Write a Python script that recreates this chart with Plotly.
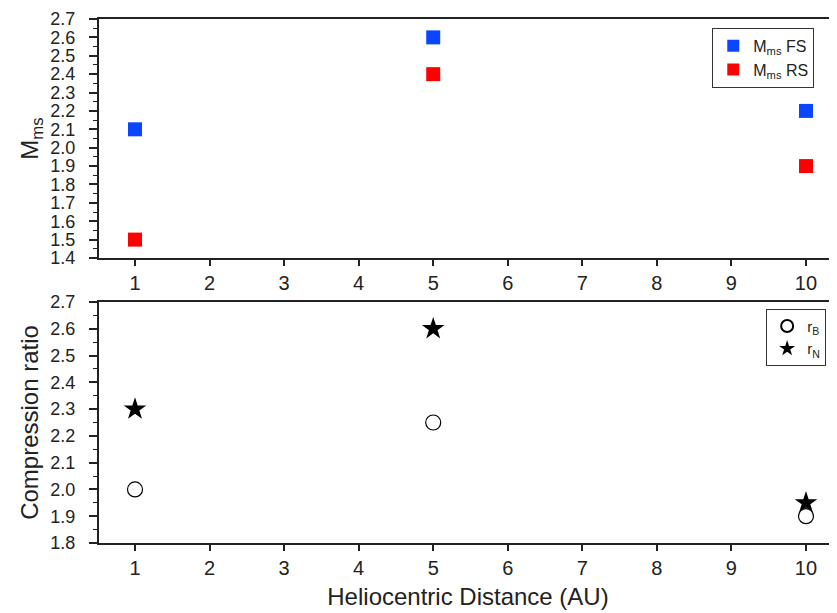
import plotly.graph_objects as go

distance = [1, 5, 10]
mms_fs = [2.1, 2.6, 2.2]
mms_rs = [1.5, 2.4, 1.9]
r_b = [2.0, 2.25, 1.9]
r_n = [2.3, 2.6, 1.95]
x_ticks = list(range(1, 11))

FONT = "Liberation Sans, Arial, sans-serif"
LINE = "#222222"

fig = go.Figure()

fig.add_trace(go.Scatter(x=distance, y=mms_fs, mode="markers", name="M<sub>ms</sub> FS",
                         marker=dict(symbol="square", size=14, color="#0a46ff"),
                         xaxis="x", yaxis="y", legend="legend"))
fig.add_trace(go.Scatter(x=distance, y=mms_rs, mode="markers", name="M<sub>ms</sub> RS",
                         marker=dict(symbol="square", size=14, color="#ff0000"),
                         xaxis="x", yaxis="y", legend="legend"))
fig.add_trace(go.Scatter(x=distance, y=r_b, mode="markers", name="r<sub>B</sub>",
                         marker=dict(symbol="circle-open", size=15, color="black", line=dict(width=1.2)),
                         xaxis="x2", yaxis="y2", legend="legend2"))
fig.add_trace(go.Scatter(x=distance, y=r_n, mode="markers", name="r<sub>N</sub>",
                         marker=dict(symbol="star", size=17, color="black"),
                         xaxis="x2", yaxis="y2", legend="legend2"))

xcommon = dict(range=[0.517, 10.416], tickvals=x_ticks, showline=True, linecolor=LINE, linewidth=2,
               mirror=True, ticks="outside", ticklen=6, tickwidth=1.5, tickcolor=LINE,
               showgrid=False, zeroline=False, automargin=False,
               tickfont=dict(size=20, family=FONT, color="#222"))
ycommon = dict(showline=True, linecolor=LINE, linewidth=2, ticks="outside", ticklen=8, tickwidth=1.5,
               tickcolor=LINE, showgrid=False, zeroline=False, dtick=0.1, tickformat=".1f",
               automargin=False, ticklabelstandoff=10,
               tickfont=dict(size=18, family=FONT, color="#222"),
               minor=dict(ticks="outside", ticklen=4, tickwidth=1.2, tickcolor=LINE, dtick=0.05, showgrid=False))

# page body has an 8px margin; compensate so the plot lands where the reference has it
fig.update_layout(
    width=829, height=605,
    margin=dict(l=91, r=0, t=11, b=70),
    paper_bgcolor="white", plot_bgcolor="white",
    font=dict(family=FONT, color="#222"),
    xaxis=dict(**xcommon, anchor="y", domain=[0, 1]),
    xaxis2=dict(**xcommon, anchor="y2", domain=[0, 1],
                title=dict(text="Heliocentric Distance (AU)", font=dict(size=24, family=FONT), standoff=10)),
    yaxis=dict(**ycommon, domain=[0.5439, 1], range=[1.4, 2.7], tick0=1.4, anchor="x",
               title=dict(text="M<sub>ms</sub>", font=dict(size=24, family=FONT), standoff=5)),
    yaxis2=dict(**ycommon, domain=[0, 0.4599], range=[1.8, 2.7], tick0=1.8, anchor="x2",
                title=dict(text="Compression ratio", font=dict(size=24, family=FONT), standoff=5)),
    legend=dict(x=0.831, y=0.983, xanchor="left", yanchor="top", bordercolor="#333", borderwidth=1,
                bgcolor="white", font=dict(size=16, family=FONT), itemsizing="constant",
                tracegroupgap=0),
    legend2=dict(x=0.904, y=0.447, xanchor="left", yanchor="top", bordercolor="#333", borderwidth=1,
                 bgcolor="white", font=dict(size=15, family=FONT), itemsizing="constant",
                 tracegroupgap=0),
    showlegend=True,
)

fig.write_html("out.html")
